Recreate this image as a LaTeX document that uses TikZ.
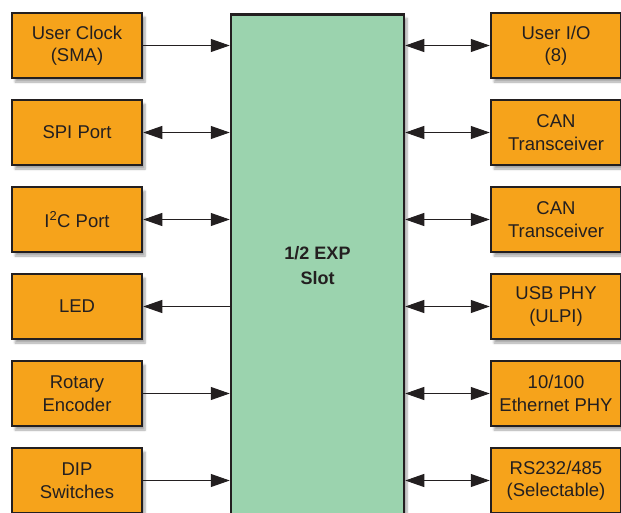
\documentclass[tikz,border=0pt]{standalone}
\usepackage{fontspec}
\setmainfont{Liberation Sans}
\usetikzlibrary{positioning}
\usetikzlibrary{arrows.meta, shadows.blur, positioning}

\definecolor{boxorange}{HTML}{F6A31B}
\definecolor{slotgreen}{HTML}{9BD3AE}
\definecolor{edgegray}{HTML}{231F20}

\begin{document}
\begin{tikzpicture}[>={Triangle[length=19pt,width=13pt]},node distance=19.5pt,
		block/.style={draw=edgegray, fill=boxorange, line width=2.5pt, rectangle, align=center,
			minimum width=130pt, minimum height=65pt, text=edgegray,
			font=\fontsize{18.5}{22.5}\selectfont,
			blur shadow={shadow xshift=3pt, shadow yshift=-4pt, shadow opacity=35, shadow blur steps=6}},
		slotbox/.style={block, fill=slotgreen, minimum width=173pt, minimum height=502pt,
			font=\fontsize{18}{25}\selectfont\bfseries},
		link/.style={line width=1pt, draw=edgegray}]

		\useasboundingbox (0,0) rectangle (621pt,-512pt);

		%% Nodes
		\begin{scope}
			\node (slot) at (317.5pt,-13pt) [slotbox, anchor=north] {1/2 EXP\\Slot};
		\end{scope}

		% Left side
		\begin{scope}
			\node (clock) at (77pt,-45.5pt) [block] {User Clock\\(SMA)};
			\node (spi) [block, below = of clock] {SPI Port};
			\node (i2c) [block, below = of spi] {I\textsuperscript{2}C Port};
			\node (led) [block, below = of i2c] {LED};
			\node (rotary) [block, below = of led] {Rotary\\Encoder};
			\node (dip) [block, below = of rotary] {DIP\\Switches};
		\end{scope}

		% Right side
		\begin{scope}
			\node (userio) at (556pt,-45.5pt) [block] {User I/O\\(8)};
			\node (can1) [block, below = of userio] {CAN\\Transceiver};
			\node (can2) [block, below = of can1] {CAN\\Transceiver};
			\node (usb) [block, below = of can2] {USB PHY\\(ULPI)};
			\node (eth) [block, below = of usb] {10/100\\Ethernet PHY};
			\node (rs) [block, below = of eth] {RS232/485\\(Selectable)};
		\end{scope}

		%% Edges
		\draw[link, ->] (clock) -- (clock -| slot.west);
		\draw[link, <->] (spi) -- (spi -| slot.west);
		\draw[link, <->] (i2c) -- (i2c -| slot.west);
		\draw[link, <-] (led) -- (led -| slot.west);
		\draw[link, ->] (rotary) -- (rotary -| slot.west);
		\draw[link, ->] (dip) -- (dip -| slot.west);

		\draw[link, <->] (userio -| slot.east) -- (userio);
		\draw[link, <->] (can1 -| slot.east) -- (can1);
		\draw[link, <->] (can2 -| slot.east) -- (can2);
		\draw[link, <->] (usb -| slot.east) -- (usb);
		\draw[link, <->] (eth -| slot.east) -- (eth);
		\draw[link, <->] (rs -| slot.east) -- (rs);
	\end{tikzpicture}
\end{document}
